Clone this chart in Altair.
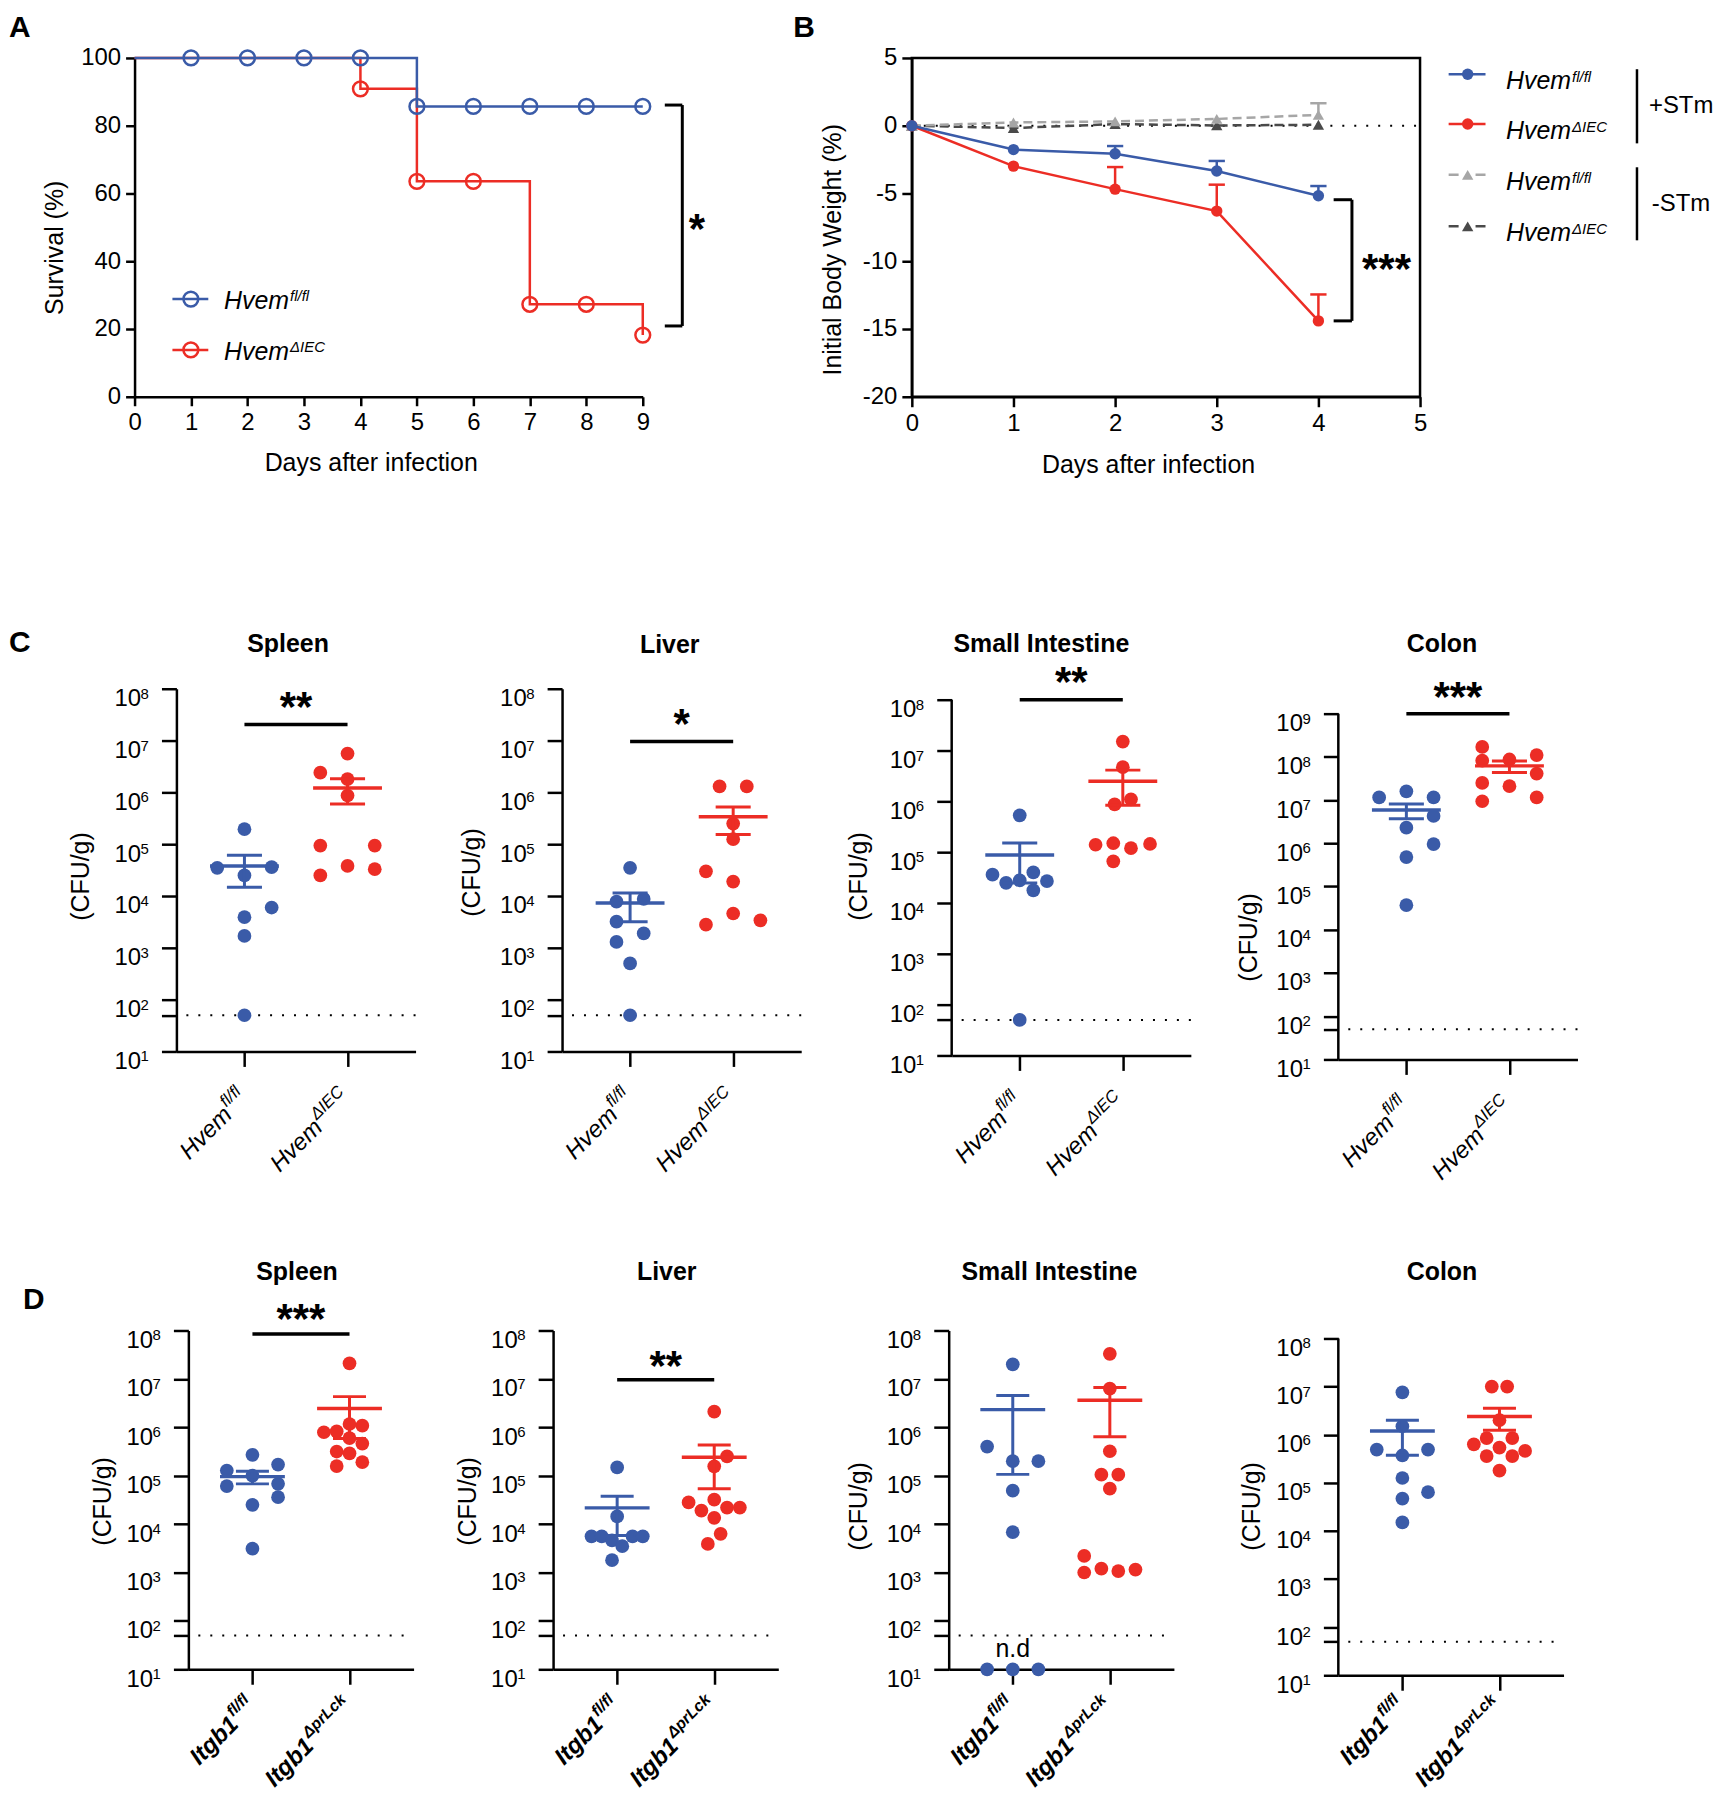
import math
import altair as alt
import pandas as pd

FONT = "Liberation Sans"
BLUE = "#3A5BA8"
RED = "#EC2D25"
LGRAY = "#A6A6A6"
DGRAY = "#4A4A4A"
LOD = 50          # limit of detection (CFU/g)
LANE = 0.264      # swarm lane width in category units
XDOM = [-0.66, 1.66]

# ---------------- Panel A : survival ----------------
A_DAYS = [0, 1, 2, 3, 4, 5, 6, 7, 8, 9]
A_SURV_FL = [100, 100, 100, 100, 100, 85.7, 85.7, 85.7, 85.7, 85.7]
A_SURV_KO = [100, 100, 100, 100, 90.9, 63.6, 63.6, 27.3, 27.3, 18.2]
A_SIG = "*"

# ---------------- Panel B : body weight ----------------
B_DAYS = [0, 1, 2, 3, 4]
B_FL_STM = [0, -1.76, -2.07, -3.34, -5.17]
B_FL_STM_SEM = [0, 0.15, 0.57, 0.74, 0.72]
B_KO_STM = [0, -2.98, -4.68, -6.30, -14.40]
B_KO_STM_SEM = [0, 0.10, 1.63, 1.95, 1.95]
B_FL_CTRL = [0, 0.24, 0.32, 0.50, 0.80]
B_FL_CTRL_SEM = [0, 0.05, 0.05, 0.10, 0.86]
B_KO_CTRL = [0, -0.17, 0.12, 0.02, 0.07]
B_KO_CTRL_SEM = [0, 0.05, 0.05, 0.05, 0.10]
B_SIG = "***"

# ---------------- Panel C : Hvem CFU ----------------
C_GENE = "Hvem"
C_SUPS = ["fl/fl", "\u0394IEC"]
C_SPLEEN_FL = [1.95e5, 3.5e4, 3.6e4, 2.5e4, 6.0e3, 3.9e3, 1.7e3, 50]
C_SPLEEN_FL_LANE = [0, -1, 1, 0, 1, 0, 0, 0]
C_SPLEEN_KO = [5.6e6, 2.4e6, 1.8e6, 8.7e5, 9.4e4, 9.4e4, 3.8e4, 3.3e4, 2.5e4]
C_SPLEEN_KO_LANE = [0, -1, 0, 0, -1, 1, 0, 1, -1]
C_LIVER_FL = [3.5e4, 7.8e3, 8.8e3, 3.2e3, 1.9e3, 1.3e3, 500, 50]
C_LIVER_FL_LANE = [0, -0.5, 0.5, -0.5, 0.5, -0.5, 0, 0]
C_LIVER_KO = [1.3e6, 1.3e6, 2.5e5, 1.25e5, 3.0e4, 1.9e4, 4.6e3, 2.8e3, 3.4e3]
C_LIVER_KO_LANE = [-0.5, 0.5, 0, 0, -1, 0, 0, -1, 1]
C_SI_FL = [5.3e5, 3.6e4, 2.5e4, 2.8e4, 4.0e4, 2.7e4, 1.78e4, 50]
C_SI_FL_LANE = [0, -1, -0.5, 0, 0.5, 1, 0.5, 0]
C_SI_KO = [1.5e7, 4.7e6, 1.1e6, 8.7e5, 1.4e5, 1.5e5, 1.2e5, 1.45e5, 6.6e4]
C_SI_KO_LANE = [0, 0, 0.3, -0.3, -1, -0.35, 0.3, 1, -0.35]
C_COLON_FL = [1.6e7, 1.15e7, 1.15e7, 4.3e6, 2.3e6, 9.6e5, 4.8e5, 3.7e4]
C_COLON_FL_LANE = [0, -1, 1, 1, 0, 1, 0, 0]
C_COLON_KO = [1.7e8, 1.1e8, 8.7e7, 8.2e7, 4.1e7, 2.5e7, 2.1e7, 1.15e7, 9.4e6]
C_COLON_KO_LANE = [-1, 1, 0, -1, 1, -1, 0, 1, -1]
C_SPLEEN_SIG = ("**", 10 ** 7.31, 10 ** 7.77)
C_LIVER_SIG = ("*", 10 ** 6.98, 10 ** 7.43)
C_SI_SIG = ("**", 1e8, 10 ** 8.47)
C_COLON_SIG = ("***", 1e9, 10 ** 9.53)

# ---------------- Panel D : Itgb1 CFU ----------------
D_GENE = "Itgb1"
D_SUPS = ["fl/fl", "\u0394prLck"]
D_SPLEEN_FL = [2.7e5, 1.7e5, 1.28e5, 1.0e5, 6.1e4, 6.8e4, 3.6e4, 2.5e4, 3.1e3]
D_SPLEEN_FL_LANE = [0, 1, -1, 0, -1, 1, 1, 0, 0]
D_SPLEEN_KO = [2.1e7, 7.9e5, 8.2e5, 1.17e6, 1.08e6, 6.0e5, 4.6e5, 3.16e5, 2.9e5, 1.58e5, 1.9e5]
D_SPLEEN_KO_LANE = [0, -1, -0.5, 0, 0.5, 0, 0.5, -0.5, 0, -0.5, 0.5]
D_LIVER_FL = [1.48e5, 1.44e4, 5.6e3, 5.6e3, 4.6e3, 3.5e3, 5.6e3, 5.6e3, 1.8e3]
D_LIVER_FL_LANE = [0, 0, -1, -0.6, -0.2, 0.2, 0.6, 1, -0.2]
D_LIVER_KO = [2.1e6, 2.5e5, 1.56e5, 2.8e4, 3.2e4, 1.9e4, 2.2e4, 2.2e4, 1.35e4, 6.3e3, 3.9e3]
D_LIVER_KO_LANE = [0, 0.5, 0, -1, 0, -0.5, 0.5, 1, 0, 0.25, -0.25]
D_SI_FL = [2.0e7, 4.0e5, 2.0e5, 2.0e5, 4.9e4, 6.8e3, 10, 10, 10]
D_SI_FL_LANE = [0, -1, 1, 0, 0, 0, -1, 0, 1]
D_SI_KO = [3.3e7, 6.3e6, 3.2e5, 1.05e5, 1.05e5, 5.4e4, 2.2e3, 1.0e3, 1.2e3, 1.07e3, 1.15e3]
D_SI_KO_LANE = [0, 0, 0, -0.33, 0.33, 0, -1, -1, -0.33, 0.33, 1]
D_COLON_FL = [7.6e6, 1.5e6, 4.9e5, 4.9e5, 3.7e5, 1.26e5, 6.4e4, 4.7e4, 1.5e4]
D_COLON_FL_LANE = [0, 0, -1, 1, 0, 0, 1, 0, 0]
D_COLON_KO = [1.0e7, 1.0e7, 2.0e6, 6.3e5, 8.5e5, 8.5e5, 5.4e5, 3.6e5, 3.6e5, 4.6e5, 1.8e5]
D_COLON_KO_LANE = [-0.3, 0.3, 0, -1, -0.5, 0.5, 0, -0.5, 0.5, 1, 0]
D_SPLEEN_SIG = ("***", 10 ** 7.93, 10 ** 8.35)
D_LIVER_SIG = ("**", 10 ** 6.98, 10 ** 7.39)

# ------------------------------------------------------------------
W_REG = {'f': .278, 'l': .222, '/': .278, '\u0394': .668, 'I': .278, 'E': .667, 'C': .722,
         'p': .556, 'r': .333, 'L': .556, 'c': .5, 'k': .5}
W_BOLD = {'f': .333, 'l': .278, '/': .278, '\u0394': .722, 'I': .278, 'E': .667, 'C': .722,
          'p': .611, 'r': .389, 'L': .611, 'c': .556, 'k': .556}
STAR = 42  # asterisk font size
STAR_DY = 20
TICK_FS = 24


def tw(s, size, bold=False):
    tab = W_BOLD if bold else W_REG
    return sum(tab.get(ch, 0.56) for ch in s) * size


def one(**kw):
    return pd.DataFrame({k: [v] for k, v in kw.items()})


def ptext(txt, x, y, size, **kw):
    props = dict(font=FONT, fontSize=size, color="black", align="left", baseline="alphabetic")
    props.update(kw)
    return alt.Chart(one(t=txt)).mark_text(**props).encode(
        x=alt.value(x), y=alt.value(y), text="t:N")


def prule(x, x2, y, y2, color="black", width=2.5, dash=None):
    kw = dict(color=color, strokeWidth=width)
    if dash:
        kw["strokeDash"] = dash
    return alt.Chart(one(k=0)).mark_rule(**kw).encode(
        x=alt.value(x), x2=alt.value(x2), y=alt.value(y), y2=alt.value(y2))


def ppoint(x, y, shape, color, filled, size):
    kw = dict(shape=shape, size=size, color=color, filled=filled, opacity=1)
    if not filled:
        kw["strokeWidth"] = 2.5
    return alt.Chart(one(k=0)).mark_point(**kw).encode(x=alt.value(x), y=alt.value(y))


def frame(x0, x1, y0, y1):
    return alt.Chart(one(k=0)).mark_rect(opacity=0).encode(
        x=alt.value(x0), x2=alt.value(x1), y=alt.value(y0), y2=alt.value(y1))


def spacer():
    return frame(0, 1, 0, 1).properties(width=1, height=1)


def sup_label(x_junction, y_base, main, sup, size=25, supsize=15, raise_px=8):
    return [
        ptext(main, x_junction, y_base, size, align="right", fontStyle="italic"),
        ptext(sup, x_junction + 1, y_base - raise_px, supsize, align="left", fontStyle="italic"),
    ]


def stars(df_, xf, yf):
    return alt.Chart(df_).mark_text(font=FONT, fontSize=STAR, fontWeight="bold", dy=STAR_DY,
                                    align="center", baseline="alphabetic", color="black").encode(
        x=xf, y=yf, text="t:N")


# ======================= Panel A =======================
AW, AH = 510, 340
a_df = pd.DataFrame({"day": A_DAYS + A_DAYS, "surv": A_SURV_FL + A_SURV_KO,
                     "grp": ["fl"] * len(A_DAYS) + ["ko"] * len(A_DAYS)})
ax = alt.X("day:Q", scale=alt.Scale(domain=[0, 9], nice=False, zero=False),
           axis=alt.Axis(values=A_DAYS, format="d", title="Days after infection", titleX=237, titleY=66,
                         titleAlign="center", titleBaseline="middle", labelFontSize=TICK_FS,
                         titleFontSize=25, tickSize=9, labelPadding=5, labelFlush=False))
ay = alt.Y("surv:Q", scale=alt.Scale(domain=[0, 100], nice=False),
           axis=alt.Axis(values=[0, 20, 40, 60, 80, 100], format="d", title="Survival (%)", titleX=-80,
                         titleY=190, titleAlign="center", titleBaseline="middle",
                         labelFontSize=TICK_FS, titleFontSize=25, tickSize=9, labelPadding=5))
abase = alt.Chart(a_df)
a_layers = [
    frame(-126, 651, -45, 507),
    abase.transform_filter("datum.grp == 'ko'").mark_line(
        interpolate="step-after", color=RED, strokeWidth=2.5).encode(x=ax, y=ay),
    abase.transform_filter("datum.grp == 'fl'").mark_line(
        interpolate="step-after", color=BLUE, strokeWidth=2.5).encode(x="day:Q", y="surv:Q"),
    abase.transform_filter("datum.grp == 'ko' && datum.surv < 100").mark_point(
        shape="circle", filled=False, size=220, strokeWidth=2.5, color=RED, opacity=1).encode(
        x="day:Q", y="surv:Q"),
    abase.transform_filter("datum.grp == 'fl' && datum.day > 0").mark_point(
        shape="circle", filled=False, size=220, strokeWidth=2.5, color=BLUE, opacity=1).encode(
        x="day:Q", y="surv:Q"),
]
a_br = one(x=9.70, xt=9.39, yt=86.1, yb=20.9, tx=9.96, ty=51.4, t=A_SIG)
a_layers += [
    alt.Chart(a_br).mark_rule(color="black", strokeWidth=3).encode(x="x:Q", y="yt:Q", y2="yb:Q"),
    alt.Chart(a_br).mark_rule(color="black", strokeWidth=3).encode(x="xt:Q", x2="x:Q", y="yt:Q"),
    alt.Chart(a_br).mark_rule(color="black", strokeWidth=3).encode(x="xt:Q", x2="x:Q", y="yb:Q"),
    stars(a_br, "tx:Q", "ty:Q"),
]
for yy, colr, sup in [(242, BLUE, C_SUPS[0]), (293, RED, C_SUPS[1])]:
    a_layers.append(prule(38, 74, yy, yy, color=colr, width=2.5))
    a_layers.append(ppoint(56.5, yy, "circle", colr, False, 220))
    a_layers += sup_label(155, yy + 10, C_GENE, sup)
a_layers.append(ptext("A", -126, -21, 30, fontWeight="bold"))
panelA = alt.layer(*a_layers).properties(width=AW, height=AH)

# ======================= Panel B =======================
BW, BH = 510, 340
b_rows = []
for key, vals, sems in [("ko_ctrl", B_KO_CTRL, B_KO_CTRL_SEM), ("fl_ctrl", B_FL_CTRL, B_FL_CTRL_SEM),
                        ("ko_stm", B_KO_STM, B_KO_STM_SEM), ("fl_stm", B_FL_STM, B_FL_STM_SEM)]:
    for d, v, s in zip(B_DAYS, vals, sems):
        b_rows.append({"day": d, "w": v, "sem": s, "grp": key})
b_df = pd.DataFrame(b_rows)
bx = alt.X("day:Q", scale=alt.Scale(domain=[0, 5], nice=False, zero=False),
           axis=alt.Axis(values=[0, 1, 2, 3, 4, 5], format="d", title="Days after infection", titleX=237,
                         titleY=68, titleAlign="center", titleBaseline="middle", labelFontSize=TICK_FS,
                         titleFontSize=25, tickSize=10, labelPadding=5, labelFlush=False))
by = alt.Y("w:Q", scale=alt.Scale(domain=[-20, 5], nice=False, zero=False),
           axis=alt.Axis(values=[-20, -15, -10, -5, 0, 5],
                         labelExpr="datum.value < 0 ? '-' + abs(datum.value) : '' + datum.value",
                         title="Initial Body Weight (%)", titleX=-80, titleY=192,
                         titleAlign="center", titleBaseline="middle", labelFontSize=TICK_FS,
                         titleFontSize=25, tickSize=10, labelPadding=5))
b_layers = [frame(-127, 805, -45, 507),
            alt.Chart(one(z=0)).mark_rule(color="black", strokeWidth=2, strokeDash=[2, 10]).encode(
                y=alt.Y("z:Q"), x=alt.value(0), x2=alt.value(BW))]
first = True
for key, colr, dashed, shape in [("ko_ctrl", DGRAY, True, "triangle-up"),
                                 ("fl_ctrl", LGRAY, True, "triangle-up"),
                                 ("ko_stm", RED, False, "circle"),
                                 ("fl_stm", BLUE, False, "circle")]:
    d = alt.Chart(b_df).transform_filter(f"datum.grp == '{key}'")
    lkw = dict(color=colr, strokeWidth=2.5)
    if dashed:
        lkw["strokeDash"] = [9, 5]
    if first:
        b_layers.append(d.mark_line(**lkw).encode(x=bx, y=by))
        first = False
    else:
        b_layers.append(d.mark_line(**lkw).encode(x="day:Q", y="w:Q"))
    e = d.transform_filter("datum.sem > 0.3").transform_calculate(
        hi="datum.w + datum.sem", cl="datum.day - 0.08", cr="datum.day + 0.08")
    b_layers.append(e.mark_rule(color=colr, strokeWidth=2.5).encode(x="day:Q", y="w:Q", y2="hi:Q"))
    b_layers.append(e.mark_rule(color=colr, strokeWidth=2.5).encode(x="cl:Q", x2="cr:Q", y="hi:Q"))
    b_layers.append(d.mark_point(shape=shape, filled=True, size=130, color=colr, opacity=1).encode(
        x="day:Q", y="w:Q"))
b_br = one(x=4.33, xt=4.15, yt=-5.46, yb=-14.4, tx=4.67, ty=-10.1, t=B_SIG)
b_layers += [
    alt.Chart(b_br).mark_rule(color="black", strokeWidth=3).encode(x="x:Q", y="yt:Q", y2="yb:Q"),
    alt.Chart(b_br).mark_rule(color="black", strokeWidth=3).encode(x="xt:Q", x2="x:Q", y="yt:Q"),
    alt.Chart(b_br).mark_rule(color="black", strokeWidth=3).encode(x="xt:Q", x2="x:Q", y="yb:Q"),
    stars(b_br, "tx:Q", "ty:Q"),
]
for yy, colr, dashed, shape, sup in [(16.3, BLUE, False, "circle", C_SUPS[0]),
                                     (66.3, RED, False, "circle", C_SUPS[1]),
                                     (117.3, LGRAY, True, "triangle-up", C_SUPS[0]),
                                     (169, DGRAY, True, "triangle-up", C_SUPS[1])]:
    b_layers.append(prule(538.7, 575.7, yy, yy, color=colr, width=2.5, dash=[10, 17] if dashed else None))
    b_layers.append(ppoint(557.8, yy, shape, colr, True, 130))
    b_layers += sup_label(661.5, yy + 15, C_GENE, sup, raise_px=7)
b_layers += [
    prule(727.7, 727.7, 11.3, 85.7, width=2.5),
    prule(727.7, 727.7, 109.7, 183, width=2.5),
    ptext("+STm", 739.7, 55.6, 24),
    ptext("-STm", 742.6, 154, 24),
    ptext("B", -119, -21, 30, fontWeight="bold"),
]
panelB = alt.layer(*b_layers).properties(
    width=BW, height=BH, view=alt.ViewBackground(stroke="black", strokeWidth=2.5))


# ======================= CFU panels =======================
def cfu_panel(fl, fl_lane, ko, ko_lane, *, title, gene, sups, bold_gene, top_tick, top_exp, W, H, fr,
              title_dx, title_y, ytx, yty, lab_dy=44, main_fs=24, sup_fs=17,
              sig=None, letter=None, nd=False):
    df = pd.DataFrame({"grp": [0] * len(fl) + [1] * len(ko),
                       "v": list(fl) + list(ko),
                       "lane": list(fl_lane) + list(ko_lane)})
    n_dec = round(math.log10(top_tick))
    decades = list(range(1, n_dec + 1))
    yvals = [10 ** k for k in decades] + [LOD]
    extended = top_exp > n_dec + 1e-9
    ysc = alt.Scale(type="log", domain=[10, 10 ** top_exp], nice=False)
    xsc = alt.Scale(domain=XDOM, nice=False, zero=False)
    col = alt.Color("grp:N", scale=alt.Scale(domain=[0, 1], range=[BLUE, RED]), legend=None)

    layers = [frame(*fr)]
    layers.append(alt.Chart(one(v=LOD)).mark_rule(color="black", strokeWidth=2, strokeDash=[2, 10]).encode(
        y=alt.Y("v:Q", scale=ysc), x=alt.value(10), x2=alt.value(W)))
    if extended:
        layers.append(alt.Chart(one(a=10, b=top_tick)).mark_rule(color="black", strokeWidth=2.5).encode(
            x=alt.value(0), y="a:Q", y2="b:Q"))
    pts = alt.Chart(df).transform_calculate(xpos=f"datum.grp + datum.lane * {LANE}").mark_circle(
        size=190, opacity=1).encode(
        x=alt.X("xpos:Q", scale=xsc, axis=alt.Axis(values=[0, 1], labels=False, title=None,
                                                   tickSize=15)),
        y=alt.Y("v:Q", scale=ysc, axis=alt.Axis(values=yvals,
                                                labelExpr="datum.value == 50 ? '' : '10'",
                                                labelBaseline="top", labelOffset=-2,
                                                title="(CFU/g)",
                                                titleX=ytx, titleY=yty, titleAlign="center",
                                                titleBaseline="middle", titleFontSize=25,
                                                labelFontSize=24, tickSize=15, labelPadding=21,
                                                labelOverlap=False, domain=not extended)),
        color=col)
    layers.append(pts)
    # exponents of the decade tick labels
    exp_df = pd.DataFrame({"ev": [10 ** k for k in decades], "e": [str(k) for k in decades]})
    layers.append(alt.Chart(exp_df).mark_text(font=FONT, fontSize=15, align="left", baseline="alphabetic",
                                              dy=10, color="black").encode(
        x=alt.value(-36), y="ev:Q", text="e:N"))
    stats = alt.Chart(df).transform_aggregate(m="mean(v)", s="stderr(v)", groupby=["grp"]).transform_calculate(
        lo="max(datum.m - datum.s, 10)", hi="datum.m + datum.s",
        ml="datum.grp - 0.334", mr="datum.grp + 0.334",
        cl="datum.grp - 0.17", cr="datum.grp + 0.17")
    layers += [
        stats.mark_rule(strokeWidth=3).encode(x="grp:Q", y="lo:Q", y2="hi:Q", color=col),
        stats.mark_rule(strokeWidth=3.5).encode(x="ml:Q", x2="mr:Q", y="m:Q", color=col),
        stats.mark_rule(strokeWidth=3).encode(x="cl:Q", x2="cr:Q", y="hi:Q", color=col),
        stats.mark_rule(strokeWidth=3).encode(x="cl:Q", x2="cr:Q", y="lo:Q", color=col),
    ]
    if sig:
        sd = one(x0=0, x1=1, xm=0.5, yb=sig[1], yt=sig[2], t=sig[0])
        layers += [
            alt.Chart(sd).mark_rule(color="black", strokeWidth=3.5).encode(x="x0:Q", x2="x1:Q", y="yb:Q"),
            stars(sd, "xm:Q", "yt:Q"),
        ]
    wt = "bold" if bold_gene else "normal"
    for g, sup in enumerate(sups):
        sw = tw(sup, sup_fs, bold_gene)
        d = one(g=g, main=gene, sup=sup)
        layers.append(alt.Chart(d).mark_text(
            font=FONT, fontSize=main_fs, fontStyle="italic", fontWeight=wt, angle=315, align="right",
            baseline="middle", dx=-(sw + 1), color="black").encode(
            x="g:Q", y=alt.value(H + lab_dy), text="main:N"))
        layers.append(alt.Chart(d).mark_text(
            font=FONT, fontSize=sup_fs, fontStyle="italic", fontWeight=wt, angle=315, align="right",
            baseline="middle", dy=-9, color="black").encode(
            x="g:Q", y=alt.value(H + lab_dy), text="sup:N"))
    if nd:
        layers.append(alt.Chart(one(g=0, t="n.d")).mark_text(
            font=FONT, fontSize=25, align="center", baseline="alphabetic", color="black").encode(
            x="g:Q", y=alt.value(H - 12), text="t:N"))
    layers.append(ptext(title, W / 2 + title_dx, title_y, 25, fontWeight="bold", align="center"))
    if letter:
        layers.append(ptext(letter[0], letter[1], letter[2], 30, fontWeight="bold"))
    return alt.layer(*layers).properties(width=W, height=H)


CFR_Y = (-124, 531)
DFR_Y = (-113, 462)
c1 = cfu_panel(C_SPLEEN_FL, C_SPLEEN_FL_LANE, C_SPLEEN_KO, C_SPLEEN_KO_LANE, title="Spleen",
               gene=C_GENE, sups=C_SUPS, bold_gene=False, top_tick=1e8, top_exp=8, W=240, H=364,
               fr=(-168, 264) + CFR_Y, title_dx=-8, title_y=-37, ytx=-96, yty=188,
               sig=C_SPLEEN_SIG, letter=("C", -168, -37))
c2 = cfu_panel(C_LIVER_FL, C_LIVER_FL_LANE, C_LIVER_KO, C_LIVER_KO_LANE, title="Liver",
               gene=C_GENE, sups=C_SUPS, bold_gene=False, top_tick=1e8, top_exp=8, W=240, H=364,
               fr=(-123, 265) + CFR_Y, title_dx=-12, title_y=-36, ytx=-91, yty=184,
               sig=C_LIVER_SIG)
c3 = cfu_panel(C_SI_FL, C_SI_FL_LANE, C_SI_KO, C_SI_KO_LANE, title="Small Intestine",
               gene=C_GENE, sups=C_SUPS, bold_gene=False, top_tick=1e8, top_exp=8.216, W=240, H=368,
               fr=(-126, 268) + CFR_Y, title_dx=-30, title_y=-37, ytx=-93, yty=188,
               sig=C_SI_SIG)
c4 = cfu_panel(C_COLON_FL, C_COLON_FL_LANE, C_COLON_KO, C_COLON_KO_LANE, title="Colon",
               gene=C_GENE, sups=C_SUPS, bold_gene=False, top_tick=1e9, top_exp=9.576, W=240, H=372,
               fr=(-120, 380) + CFR_Y, title_dx=-16, title_y=-37, ytx=-90, yty=249,
               sig=C_COLON_SIG)

DKW = dict(gene=D_GENE, sups=D_SUPS, bold_gene=True, main_fs=24, sup_fs=16)
d1 = cfu_panel(D_SPLEEN_FL, D_SPLEEN_FL_LANE, D_SPLEEN_KO, D_SPLEEN_KO_LANE, title="Spleen",
               top_tick=1e8, top_exp=8, W=226, H=340,
               fr=(-180, 252) + DFR_Y, title_dx=-4, title_y=-51, ytx=-86, yty=171, lab_dy=34,
               sig=D_SPLEEN_SIG, letter=("D", -166, -22), **DKW)
d2 = cfu_panel(D_LIVER_FL, D_LIVER_FL_LANE, D_LIVER_KO, D_LIVER_KO_LANE, title="Liver",
               top_tick=1e8, top_exp=8, W=226, H=340,
               fr=(-114, 266) + DFR_Y, title_dx=1, title_y=-51, ytx=-86, yty=171, lab_dy=34,
               sig=D_LIVER_SIG, **DKW)
d3 = cfu_panel(D_SI_FL, D_SI_FL_LANE, D_SI_KO, D_SI_KO_LANE, title="Small Intestine",
               top_tick=1e8, top_exp=8, W=226, H=340,
               fr=(-131, 269) + DFR_Y, title_dx=-12, title_y=-51, ytx=-90, yty=176, lab_dy=34,
               nd=True, **DKW)
d4 = cfu_panel(D_COLON_FL, D_COLON_FL_LANE, D_COLON_KO, D_COLON_KO_LANE, title="Colon",
               top_tick=1e8, top_exp=8.166, W=226, H=346,
               fr=(-122, 380) + DFR_Y, title_dx=-9, title_y=-51, ytx=-87, yty=176, lab_dy=28,
               **DKW)

row1 = alt.hconcat(spacer(), panelA, panelB, spacing=0)
rowC = alt.hconcat(spacer(), c1, c2, c3, c4, spacing=0)
rowD = alt.hconcat(spacer(), d1, d2, d3, d4, spacing=0)

chart = alt.vconcat(row1, rowC, rowD, spacing=0).properties(padding=0).configure_view(
    stroke=None).configure_axis(
    domainColor="black", domainWidth=2.5, tickColor="black", tickWidth=2.5,
    labelColor="black", titleColor="black", labelFont=FONT, titleFont=FONT,
    titleFontWeight="normal", grid=False)

chart.save("out.html", embed_options={"renderer": "svg", "actions": False})
